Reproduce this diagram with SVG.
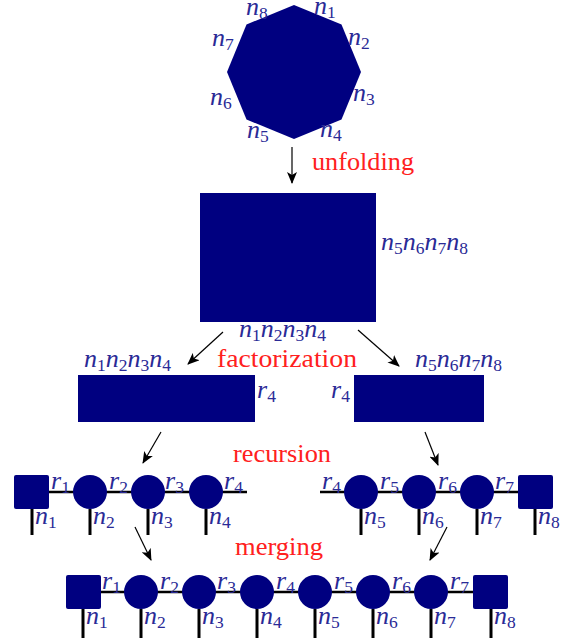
<svg xmlns="http://www.w3.org/2000/svg" width="565" height="638" viewBox="0 0 565 638">
<defs>
<marker id="ah" viewBox="0 0 12 10" refX="11" refY="5" markerWidth="12" markerHeight="10" markerUnits="userSpaceOnUse" orient="auto">
<path d="M0,0 L12,5 L0,10 L3,5 Z" fill="#000"/>
</marker>
<style>
.nd{fill:#000080}
.lab{font-family:'Liberation Serif','DejaVu Serif',serif;font-style:italic;font-size:26px;fill:#2a2a96}
.s{font-style:normal;font-size:17.5px}
.red{font-family:'Liberation Serif','DejaVu Serif',serif;font-size:26px;fill:#ff2020}
.ar{stroke:#000;stroke-width:1.2;fill:none;marker-end:url(#ah)}
.bd{stroke:#000;stroke-width:2.5;fill:none}
.lg{stroke:#000;stroke-width:3;fill:none}
</style>
</defs>
<g id="octagon">
<polygon class="nd" points="294,5 341.5,24.5 361,72 341.5,119.5 294,139 246.5,119.5 227,72 246.5,24.5"/>
<text class="lab" x="246" y="15">n<tspan class="s" dy="4">8</tspan></text>
<text class="lab" x="314" y="14">n<tspan class="s" dy="4">1</tspan></text>
<text class="lab" x="212" y="46">n<tspan class="s" dy="4">7</tspan></text>
<text class="lab" x="348" y="45">n<tspan class="s" dy="4">2</tspan></text>
<text class="lab" x="210" y="105">n<tspan class="s" dy="4">6</tspan></text>
<text class="lab" x="353" y="101">n<tspan class="s" dy="4">3</tspan></text>
<text class="lab" x="247" y="138">n<tspan class="s" dy="4">5</tspan></text>
<text class="lab" x="320" y="137">n<tspan class="s" dy="4">4</tspan></text>
</g>

<g id="matrix">
<rect class="nd" x="200" y="193" width="176" height="129"/>
<text class="lab" x="381" y="250">n<tspan class="s" dy="4">5</tspan><tspan dy="-4">n</tspan><tspan class="s" dy="4">6</tspan><tspan dy="-4">n</tspan><tspan class="s" dy="4">7</tspan><tspan dy="-4">n</tspan><tspan class="s" dy="4">8</tspan></text>
<text class="lab" x="239" y="337">n<tspan class="s" dy="4">1</tspan><tspan dy="-4">n</tspan><tspan class="s" dy="4">2</tspan><tspan dy="-4">n</tspan><tspan class="s" dy="4">3</tspan><tspan dy="-4">n</tspan><tspan class="s" dy="4">4</tspan></text>
</g>

<g id="left-factor">
<rect class="nd" x="78" y="375" width="177" height="47"/>
<text class="lab" x="84" y="367">n<tspan class="s" dy="4">1</tspan><tspan dy="-4">n</tspan><tspan class="s" dy="4">2</tspan><tspan dy="-4">n</tspan><tspan class="s" dy="4">3</tspan><tspan dy="-4">n</tspan><tspan class="s" dy="4">4</tspan></text>
<text class="lab" x="257" y="398">r<tspan class="s" dy="4">4</tspan></text>
</g>

<g id="right-factor">
<rect class="nd" x="354" y="375" width="130" height="47"/>
<text class="lab" x="415" y="367">n<tspan class="s" dy="4">5</tspan><tspan dy="-4">n</tspan><tspan class="s" dy="4">6</tspan><tspan dy="-4">n</tspan><tspan class="s" dy="4">7</tspan><tspan dy="-4">n</tspan><tspan class="s" dy="4">8</tspan></text>
<text class="lab" x="331" y="398">r<tspan class="s" dy="4">4</tspan></text>
</g>

<g id="connectors">
<line class="ar" x1="292" y1="147" x2="292" y2="183"/>
<line class="ar" x1="223" y1="332" x2="188" y2="364"/>
<line class="ar" x1="358" y1="330" x2="399" y2="366"/>
<line class="ar" x1="161" y1="432" x2="143" y2="463"/>
<line class="ar" x1="425" y1="432" x2="438" y2="465"/>
<line class="ar" x1="135" y1="527" x2="151" y2="560"/>
<line class="ar" x1="447" y1="527" x2="430" y2="560"/>
</g>

<g id="step-labels">
<text class="red" x="312" y="170" textLength="102" lengthAdjust="spacingAndGlyphs">unfolding</text>
<text class="red" x="217" y="367" textLength="140" lengthAdjust="spacingAndGlyphs">factorization</text>
<text class="red" x="233" y="462" textLength="98" lengthAdjust="spacingAndGlyphs">recursion</text>
<text class="red" x="235" y="555" textLength="88" lengthAdjust="spacingAndGlyphs">merging</text>
</g>

<g id="left-chain">
<line class="bd" x1="49" y1="492" x2="247" y2="492"/>
<line class="lg" x1="32" y1="509" x2="32" y2="535"/>
<line class="lg" x1="90" y1="509" x2="90" y2="535"/>
<line class="lg" x1="148" y1="509" x2="148" y2="535"/>
<line class="lg" x1="206" y1="509" x2="206" y2="535"/>
<rect class="nd" x="14" y="475" width="35" height="34" rx="2"/>
<circle class="nd" cx="90" cy="492" r="17"/>
<circle class="nd" cx="148" cy="492" r="17"/>
<circle class="nd" cx="206" cy="492" r="17"/>
<text class="lab" x="51" y="489">r<tspan class="s" dy="4">1</tspan></text>
<text class="lab" x="109" y="489">r<tspan class="s" dy="4">2</tspan></text>
<text class="lab" x="165" y="489">r<tspan class="s" dy="4">3</tspan></text>
<text class="lab" x="224" y="489">r<tspan class="s" dy="4">4</tspan></text>
<text class="lab" x="35" y="524">n<tspan class="s" dy="4">1</tspan></text>
<text class="lab" x="93" y="524">n<tspan class="s" dy="4">2</tspan></text>
<text class="lab" x="151" y="524">n<tspan class="s" dy="4">3</tspan></text>
<text class="lab" x="209" y="524">n<tspan class="s" dy="4">4</tspan></text>
</g>

<g id="right-chain">
<line class="bd" x1="320" y1="492" x2="518" y2="492"/>
<line class="lg" x1="361" y1="509" x2="361" y2="535"/>
<line class="lg" x1="419" y1="509" x2="419" y2="535"/>
<line class="lg" x1="477" y1="509" x2="477" y2="535"/>
<line class="lg" x1="535" y1="509" x2="535" y2="535"/>
<circle class="nd" cx="361" cy="492" r="17"/>
<circle class="nd" cx="419" cy="492" r="17"/>
<circle class="nd" cx="477" cy="492" r="17"/>
<rect class="nd" x="518" y="475" width="35" height="34" rx="2"/>
<text class="lab" x="322" y="489">r<tspan class="s" dy="4">4</tspan></text>
<text class="lab" x="380" y="489">r<tspan class="s" dy="4">5</tspan></text>
<text class="lab" x="438" y="489">r<tspan class="s" dy="4">6</tspan></text>
<text class="lab" x="495" y="489">r<tspan class="s" dy="4">7</tspan></text>
<text class="lab" x="364" y="524">n<tspan class="s" dy="4">5</tspan></text>
<text class="lab" x="422" y="524">n<tspan class="s" dy="4">6</tspan></text>
<text class="lab" x="480" y="524">n<tspan class="s" dy="4">7</tspan></text>
<text class="lab" x="538" y="524">n<tspan class="s" dy="4">8</tspan></text>
</g>

<g id="merged-chain">
<line class="bd" x1="100" y1="592" x2="474" y2="592"/>
<line class="lg" x1="83" y1="609" x2="83" y2="638"/>
<line class="lg" x1="141" y1="609" x2="141" y2="638"/>
<line class="lg" x1="199" y1="609" x2="199" y2="638"/>
<line class="lg" x1="257" y1="609" x2="257" y2="638"/>
<line class="lg" x1="315" y1="609" x2="315" y2="638"/>
<line class="lg" x1="373" y1="609" x2="373" y2="638"/>
<line class="lg" x1="431" y1="609" x2="431" y2="638"/>
<line class="lg" x1="491" y1="609" x2="491" y2="638"/>
<rect class="nd" x="66" y="575" width="35" height="34" rx="2"/>
<circle class="nd" cx="141" cy="592" r="17"/>
<circle class="nd" cx="199" cy="592" r="17"/>
<circle class="nd" cx="257" cy="592" r="17"/>
<circle class="nd" cx="315" cy="592" r="17"/>
<circle class="nd" cx="373" cy="592" r="17"/>
<circle class="nd" cx="431" cy="592" r="17"/>
<rect class="nd" x="473" y="575" width="35" height="34" rx="2"/>
<text class="lab" x="102" y="589">r<tspan class="s" dy="4">1</tspan></text>
<text class="lab" x="160" y="589">r<tspan class="s" dy="4">2</tspan></text>
<text class="lab" x="217" y="589">r<tspan class="s" dy="4">3</tspan></text>
<text class="lab" x="276" y="589">r<tspan class="s" dy="4">4</tspan></text>
<text class="lab" x="334" y="589">r<tspan class="s" dy="4">5</tspan></text>
<text class="lab" x="392" y="589">r<tspan class="s" dy="4">6</tspan></text>
<text class="lab" x="450" y="589">r<tspan class="s" dy="4">7</tspan></text>
<text class="lab" x="86" y="624">n<tspan class="s" dy="4">1</tspan></text>
<text class="lab" x="144" y="624">n<tspan class="s" dy="4">2</tspan></text>
<text class="lab" x="202" y="624">n<tspan class="s" dy="4">3</tspan></text>
<text class="lab" x="260" y="624">n<tspan class="s" dy="4">4</tspan></text>
<text class="lab" x="318" y="624">n<tspan class="s" dy="4">5</tspan></text>
<text class="lab" x="376" y="624">n<tspan class="s" dy="4">6</tspan></text>
<text class="lab" x="434" y="624">n<tspan class="s" dy="4">7</tspan></text>
<text class="lab" x="494" y="624">n<tspan class="s" dy="4">8</tspan></text>
</g>
</svg>
